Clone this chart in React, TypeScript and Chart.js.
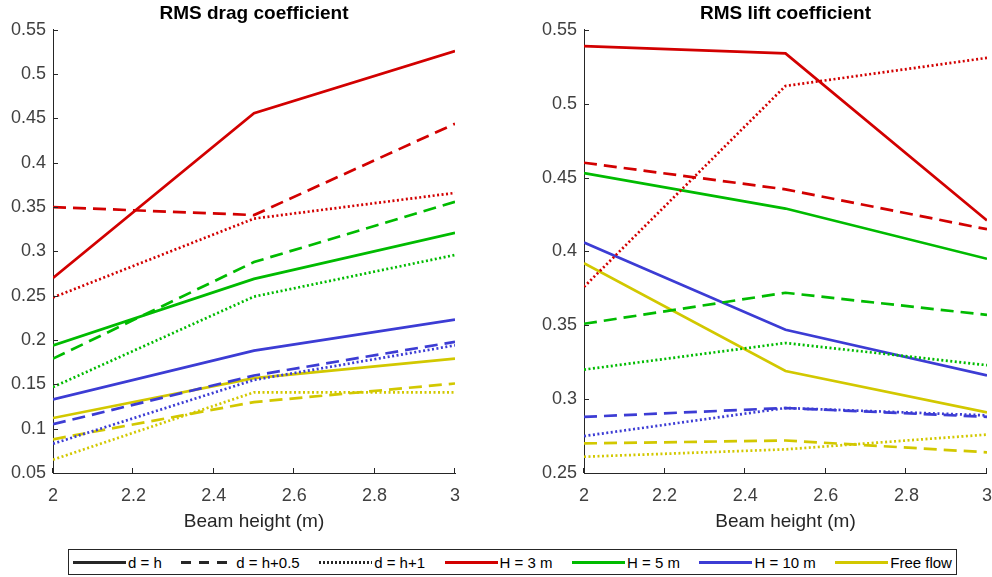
import React, { useEffect, useRef } from "react";
import { Chart, registerables } from "chart.js";
Chart.register(...registerables);

const FONT = '"Liberation Sans", Arial, Helvetica, sans-serif';
const AXIS = "#262626";
const TICK_TEXT = "#404040";

const beamHeights = [2, 2.5, 3];
const xTicks = [2, 2.2, 2.4, 2.6, 2.8, 3];
const dragYTicks = [0.05, 0.1, 0.15, 0.2, 0.25, 0.3, 0.35, 0.4, 0.45, 0.5, 0.55];
const liftYTicks = [0.25, 0.3, 0.35, 0.4, 0.45, 0.5, 0.55];

// RMS drag coefficient
const dragH3_dh = [0.27, 0.456, 0.526];
const dragH3_dh05 = [0.35, 0.341, 0.444];
const dragH3_dh1 = [0.248, 0.337, 0.366];
const dragH5_dh = [0.194, 0.269, 0.321];
const dragH5_dh05 = [0.179, 0.288, 0.356];
const dragH5_dh1 = [0.147, 0.249, 0.296];
const dragH10_dh = [0.133, 0.188, 0.223];
const dragH10_dh05 = [0.105, 0.16, 0.198];
const dragH10_dh1 = [0.083, 0.155, 0.194];
const dragFree_dh = [0.112, 0.157, 0.179];
const dragFree_dh05 = [0.088, 0.13, 0.151];
const dragFree_dh1 = [0.065, 0.141, 0.141];

// RMS lift coefficient
const liftH3_dh = [0.539, 0.534, 0.421];
const liftH3_dh05 = [0.46, 0.442, 0.415];
const liftH3_dh1 = [0.376, 0.512, 0.531];
const liftH5_dh = [0.453, 0.429, 0.395];
const liftH5_dh05 = [0.351, 0.372, 0.357];
const liftH5_dh1 = [0.32, 0.338, 0.323];
const liftH10_dh = [0.406, 0.347, 0.316];
const liftH10_dh05 = [0.288, 0.294, 0.288];
const liftH10_dh1 = [0.275, 0.294, 0.289];
const liftFree_dh = [0.392, 0.319, 0.291];
const liftFree_dh05 = [0.27, 0.272, 0.264];
const liftFree_dh1 = [0.261, 0.266, 0.276];

const RED = "#d20000";
const GREEN = "#00bb00";
const BLUE = "#3c3cd4";
const YELLOW = "#d2c800";

const SOLID: number[] = [];
const DASHED = [13, 7];
const DOTTED = [2, 2.5];

type Series = { values: number[]; color: string; dash: number[] };

const dragSeries: Series[] = [
  { values: dragH3_dh, color: RED, dash: SOLID },
  { values: dragH3_dh05, color: RED, dash: DASHED },
  { values: dragH3_dh1, color: RED, dash: DOTTED },
  { values: dragH5_dh, color: GREEN, dash: SOLID },
  { values: dragH5_dh05, color: GREEN, dash: DASHED },
  { values: dragH5_dh1, color: GREEN, dash: DOTTED },
  { values: dragH10_dh, color: BLUE, dash: SOLID },
  { values: dragH10_dh05, color: BLUE, dash: DASHED },
  { values: dragH10_dh1, color: BLUE, dash: DOTTED },
  { values: dragFree_dh, color: YELLOW, dash: SOLID },
  { values: dragFree_dh05, color: YELLOW, dash: DASHED },
  { values: dragFree_dh1, color: YELLOW, dash: DOTTED },
];

const liftSeries: Series[] = [
  { values: liftH3_dh, color: RED, dash: SOLID },
  { values: liftH3_dh05, color: RED, dash: DASHED },
  { values: liftH3_dh1, color: RED, dash: DOTTED },
  { values: liftH5_dh, color: GREEN, dash: SOLID },
  { values: liftH5_dh05, color: GREEN, dash: DASHED },
  { values: liftH5_dh1, color: GREEN, dash: DOTTED },
  { values: liftH10_dh, color: BLUE, dash: SOLID },
  { values: liftH10_dh05, color: BLUE, dash: DASHED },
  { values: liftH10_dh1, color: BLUE, dash: DOTTED },
  { values: liftFree_dh, color: YELLOW, dash: SOLID },
  { values: liftFree_dh05, color: YELLOW, dash: DASHED },
  { values: liftFree_dh1, color: YELLOW, dash: DOTTED },
];

const legendItems = [
  { label: "d = h", color: AXIS, kind: "solid" },
  { label: "d = h+0.5", color: AXIS, kind: "dashed" },
  { label: "d = h+1", color: AXIS, kind: "dotted" },
  { label: "H = 3 m", color: RED, kind: "solid" },
  { label: "H = 5 m", color: GREEN, kind: "solid" },
  { label: "H = 10 m", color: BLUE, kind: "solid" },
  { label: "Free flow", color: YELLOW, kind: "solid" },
];

const innerTicks = {
  id: "innerTicks",
  afterDraw(chart: any) {
    const { ctx, chartArea: a, scales } = chart;
    ctx.save();
    ctx.strokeStyle = AXIS;
    ctx.lineWidth = 1;
    ctx.beginPath();
    scales.x.ticks.forEach((t: any) => {
      const px = Math.round(scales.x.getPixelForValue(t.value)) - 0.5;
      ctx.moveTo(px, a.bottom);
      ctx.lineTo(px, a.bottom - 5);
    });
    scales.y.ticks.forEach((t: any) => {
      const py = Math.round(scales.y.getPixelForValue(t.value)) + 0.5;
      ctx.moveTo(a.left, py);
      ctx.lineTo(a.left + 5, py);
    });
    ctx.stroke();
    ctx.restore();
  },
};

const fmt = (v: number) => String(Number(v.toFixed(2)));

function Panel(props: {
  title: string;
  series: Series[];
  yTicks: number[];
  yWidth: number;
  padRight: number;
  left: number;
  width: number;
}) {
  const ref = useRef<HTMLCanvasElement>(null);
  useEffect(() => {
    if (!ref.current) return;
    const { title, series, yTicks, yWidth, padRight } = props;
    const chart = new Chart(ref.current, {
      type: "line",
      data: {
        datasets: series.map((s) => ({
          data: beamHeights.map((x, i) => ({ x, y: s.values[i] })),
          borderColor: s.color,
          backgroundColor: s.color,
          borderWidth: 2.7,
          borderDash: s.dash,
          pointRadius: 0,
          fill: false,
          tension: 0,
        })),
      },
      options: {
        animation: false,
        responsive: false,
        devicePixelRatio: 1,
        layout: { padding: { left: 0, right: padRight, top: 0, bottom: 0 } },
        plugins: {
          legend: { display: false },
          tooltip: { enabled: false },
          title: {
            display: true,
            text: title,
            fullSize: false,
            color: "#000",
            font: { family: FONT, size: 19, weight: "bold" },
            padding: { top: 2, bottom: 5 },
          },
        },
        scales: {
          x: {
            type: "linear",
            min: beamHeights[0],
            max: beamHeights[beamHeights.length - 1],
            afterBuildTicks: (s: any) => {
              s.ticks = xTicks.map((v) => ({ value: v }));
            },
            afterFit: (s: any) => {
              s.height = 67;
            },
            ticks: {
              callback: (v: any) => fmt(Number(v)),
              color: TICK_TEXT,
              font: { family: FONT, size: 18 },
              padding: 12,
              autoSkip: false,
              maxRotation: 0,
            },
            grid: { display: false, drawTicks: false },
            border: { display: true, color: AXIS, width: 1 },
            title: {
              display: true,
              text: "Beam height (m)",
              color: "#262626",
              font: { family: FONT, size: 19 },
              padding: { top: 0, bottom: 7 },
            },
          },
          y: {
            type: "linear",
            min: yTicks[0],
            max: yTicks[yTicks.length - 1],
            afterBuildTicks: (s: any) => {
              s.ticks = yTicks.map((v) => ({ value: v }));
            },
            afterFit: (s: any) => {
              s.width = yWidth;
            },
            ticks: {
              callback: (v: any) => fmt(Number(v)),
              color: TICK_TEXT,
              font: { family: FONT, size: 18 },
              padding: 7,
              autoSkip: false,
            },
            grid: { display: false, drawTicks: false },
            border: { display: true, color: AXIS, width: 1 },
          },
        },
      } as any,
      plugins: [innerTicks],
    });
    return () => chart.destroy();
  }, []);
  return (
    <canvas
      ref={ref}
      width={props.width}
      height={540}
      style={{ position: "absolute", left: props.left, top: 0, width: props.width, height: 540 }}
    />
  );
}

function Sample({ color, kind }: { color: string; kind: string }) {
  let background = color;
  if (kind === "dashed")
    background = `repeating-linear-gradient(to right, ${color} 0 10px, transparent 10px 18px)`;
  if (kind === "dotted")
    background = `repeating-linear-gradient(to right, ${color} 0 2px, transparent 2px 4px)`;
  return <div style={{ width: 53, height: 3, background, marginRight: 2 }} />;
}

export default function App() {
  return (
    <div
      style={{
        position: "fixed",
        left: 0,
        top: 0,
        width: 992,
        height: 577,
        background: "#fff",
        overflow: "hidden",
      }}
    >
      <Panel title="RMS drag coefficient" series={dragSeries} yTicks={dragYTicks} yWidth={53} padRight={41} left={0} width={496} />
      <Panel title="RMS lift coefficient" series={liftSeries} yTicks={liftYTicks} yWidth={88} padRight={0} left={496} width={508} />
      <div
        style={{
          position: "absolute",
          left: 68,
          top: 549,
          width: 889,
          height: 26,
          boxSizing: "border-box",
          border: "1px solid #262626",
          display: "flex",
          alignItems: "center",
          justifyContent: "space-between",
          padding: "0 4px 0 4px",
          fontFamily: FONT,
          fontSize: 15,
          color: "#000",
          whiteSpace: "nowrap",
        }}
      >
        {legendItems.map((it) => (
          <div key={it.label} style={{ display: "flex", alignItems: "center" }}>
            <Sample color={it.color} kind={it.kind} />
            <span>{it.label}</span>
          </div>
        ))}
      </div>
    </div>
  );
}
